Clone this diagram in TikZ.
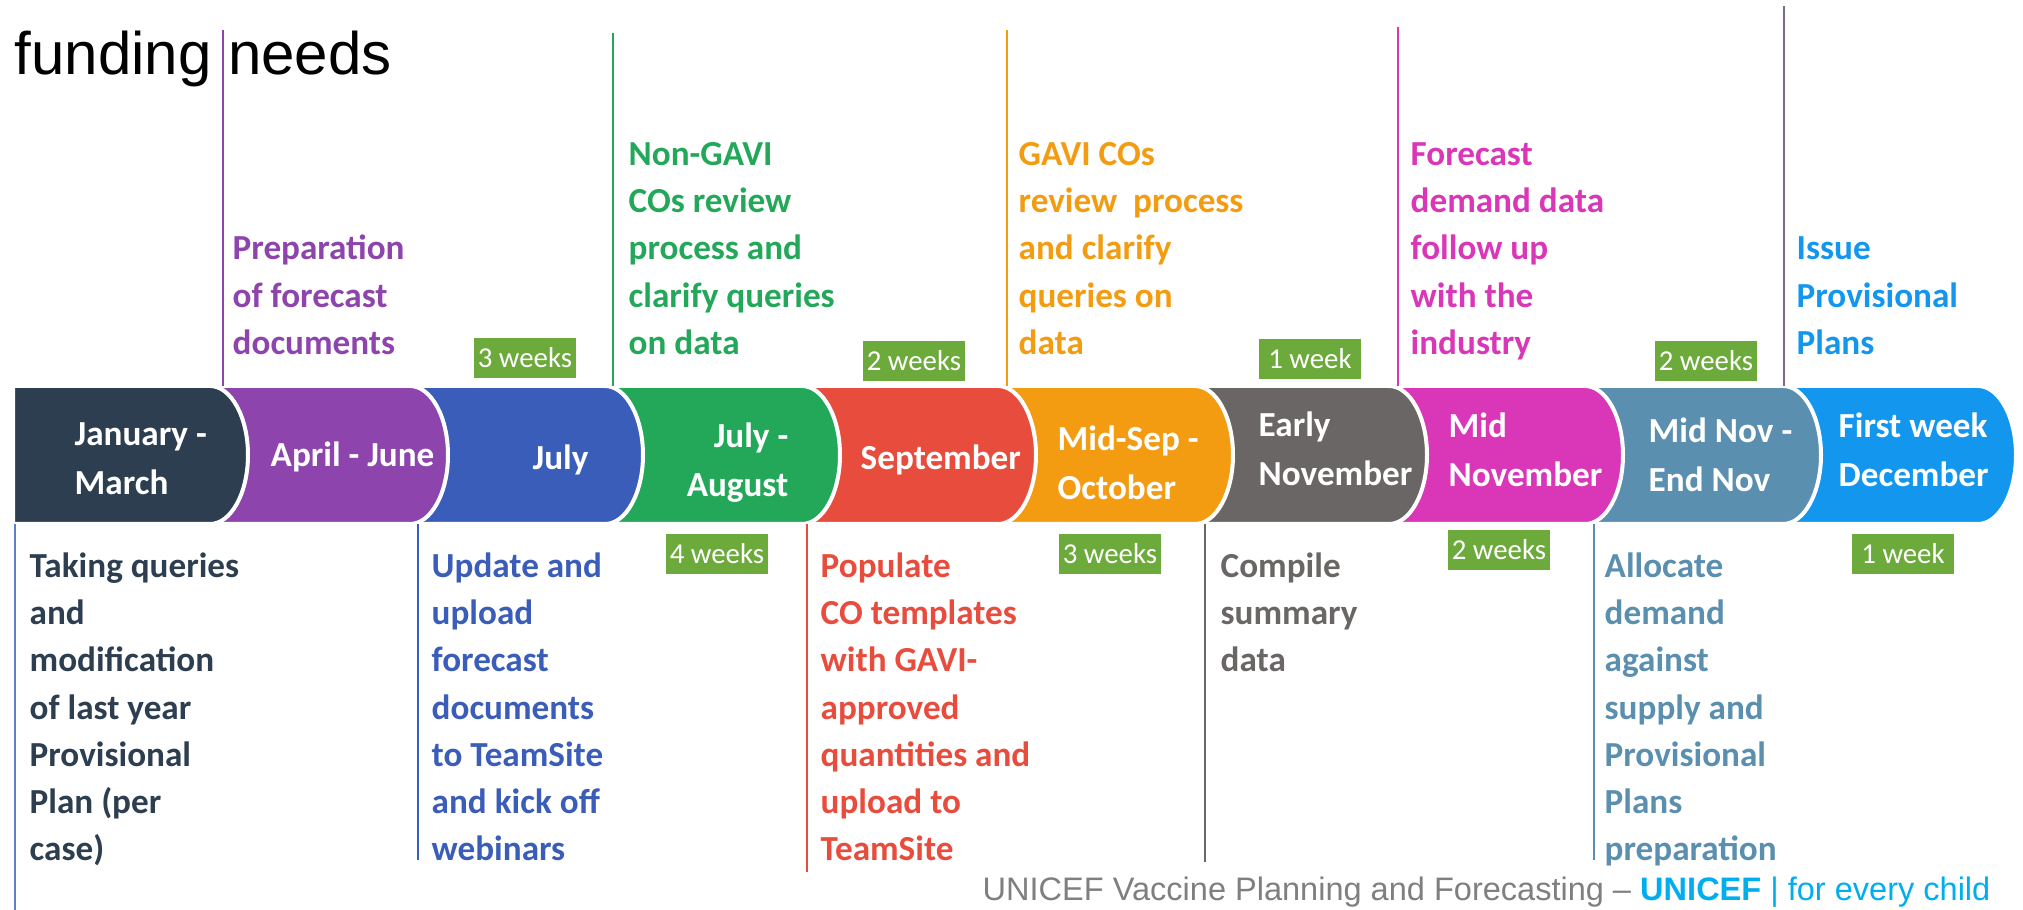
\documentclass[tikz,border=0pt]{standalone}
\usepackage{fontspec}
\setmainfont{Carlito}
\newfontfamily\arialfont{Liberation Sans}
\usepackage{tikz}
\usetikzlibrary{positioning}
\definecolor{navy1}{HTML}{2C3E50}
\definecolor{purple1}{HTML}{8E44AD}
\definecolor{blue1}{HTML}{3A5DB9}
\definecolor{green1}{HTML}{23A85A}
\definecolor{red1}{HTML}{E74C3C}
\definecolor{orange1}{HTML}{F39C12}
\definecolor{gray1}{HTML}{6B6666}
\definecolor{magenta1}{HTML}{D936B8}
\definecolor{steel1}{HTML}{5A8FB0}
\definecolor{sky1}{HTML}{1396EE}
\definecolor{week1}{HTML}{6DAA3C}
\definecolor{line0}{HTML}{5A82CC}
\definecolor{line1}{HTML}{7A6A8C}
\definecolor{foot1}{HTML}{7F7F7F}
\definecolor{unicef1}{HTML}{00AEEF}

\begin{document}
\begin{tikzpicture}[
    x=0.01cm, y=-0.01cm,
    seg/.style={draw=white, line width=0.04cm},
    seglabel/.style={text=white, inner sep=0, align=left, anchor=north west,
                     font=\fontsize{10}{14}\selectfont\bfseries},
    task/.style={inner sep=0, align=left,
                 font=\fontsize{10}{13.4}\selectfont\bfseries},
    weeks/.style={fill=week1, text=white, inner sep=0,
                  minimum width=1.02cm, minimum height=0.39cm,
                  font=\fontsize{8.2}{9}\selectfont},
    tick/.style={line width=0.025cm},
]
\useasboundingbox (0,0) rectangle (2023,910);

\node[anchor=base west, inner sep=0, font=\arialfont\fontsize{17.07}{20}\selectfont]
    (title) at (14,75) {funding needs};

% band, drawn from the right so each rounded end lies on the next one
\foreach \lft/\tip/\col in {1761/2016/sky1, 1563/1821/steel1, 1367/1623/magenta1,
        1173/1427/gray1, 976/1233/orange1, 780/1036/red1, 583/840/green1,
        388/643/blue1, 188/448/purple1, 13/248/navy1}
  \path[seg, fill=\col] (\lft,386) -- ({\tip-38},386)
      .. controls ({\tip-17},386) and (\tip,417) .. (\tip,455)
      .. controls (\tip,493) and ({\tip-17},524) .. ({\tip-38},524)
      -- (\lft,524) -- cycle;

\node[seglabel] (jan) at (74,410) {\strut January -\\March};
\node[seglabel] (apr) at (270,431) {\strut April - June};
\node[seglabel] (jul) at (532,434) {\strut July};
\node[seglabel, align=right, anchor=north east] (julaug) at (789,412) {\strut July -\\August};
\node[seglabel] (sep) at (860,434) {\strut September};
\node[seglabel] (midsep) at (1057,415) {\strut Mid-Sep -\\October};
\node[seglabel] (earlynov) at (1258,401) {\strut Early\\November};
\node[seglabel] (midnov) at (1448,402) {\strut Mid\\November};
\node[seglabel] (endnov) at (1648,407) {\strut Mid Nov -\\End Nov};
\node[seglabel] (dec) at (1838,402) {\strut First week\\December};

% ticks above and below the band
\foreach \n/\x/\y/\col in {prep/223/30/purple1, nongavi/613/33/green1,
        gavi/1007/30/orange1, forecast/1398/27/magenta1, issue/1784/6/line1} {
  \coordinate (\n top) at (\x,\y);
  \coordinate (\n foot) at (\x,386);
  \draw[tick, \col] (\n foot) -- (\n top);
}
\foreach \n/\x/\y/\col in {taking/15/910/line0, update/418/860/blue1,
        populate/807/872/red1, compile/1205/862/gray1, allocate/1594/860/steel1} {
  \coordinate (\n top) at (\x,524);
  \coordinate (\n foot) at (\x,\y);
  \draw[tick, \col] (\n top) -- (\n foot);
}

\node[task, text=purple1, anchor=south west] (prep) at (232,369)
    {Preparation\\of forecast\\documents\strut};
\node[task, text=green1, anchor=south west] (nongavi) at (628,369)
    {Non-GAVI\\COs review\\process and\\clarify queries\\on data\strut};
\node[task, text=orange1, anchor=south west] (gavi) at (1018,369)
    {GAVI COs\\review\ \ process\\and clarify\\queries on\\data\strut};
\node[task, text=magenta1, anchor=south west] (forecast) at (1410,369)
    {Forecast\\demand data\\follow up\\with the\\industry\strut};
\node[task, text=sky1, anchor=south west] (issue) at (1796,369)
    {Issue\\Provisional\\Plans\strut};

\node[task, text=navy1, anchor=north west] (taking) at (29,544)
    {\strut Taking queries\\and\\modification\\of last year\\Provisional\\Plan (per\\case)};
\node[task, text=blue1, anchor=north west] (update) at (431,544)
    {\strut Update and\\upload\\forecast\\documents\\to TeamSite\\and kick off\\webinars};
\node[task, text=red1, anchor=north west] (populate) at (820,544)
    {\strut Populate\\CO templates\\with GAVI-\\approved\\quantities and\\upload to\\TeamSite};
\node[task, text=gray1, anchor=north west] (compile) at (1220,544)
    {\strut Compile\\summary\\data};
\node[task, text=steel1, anchor=north west] (allocate) at (1604,544)
    {\strut Allocate\\demand\\against\\supply and\\Provisional\\Plans\\preparation};

\node[weeks] (wa) at (525,358) {3 weeks};
\node[weeks] (wb) at (914,361) {2 weeks};
\node[weeks] (wc) at (1310,359) {1 week};
\node[weeks] (wd) at (1706,361) {2 weeks};
\node[weeks] (we) at (717,554) {4 weeks};
\node[weeks] (wf) at (1110,554) {3 weeks};
\node[weeks] (wg) at (1499,550) {2 weeks};
\node[weeks] (wh) at (1903,554) {1 week};

\node[anchor=base west, inner sep=0, text=foot1,
      font=\arialfont\fontsize{9.25}{11}\selectfont] (foot) at (982,901)
    {UNICEF Vaccine Planning and Forecasting – \textcolor{unicef1}{\bfseries UNICEF} \textcolor{unicef1}{| for every child}};
\end{tikzpicture}
\end{document}
